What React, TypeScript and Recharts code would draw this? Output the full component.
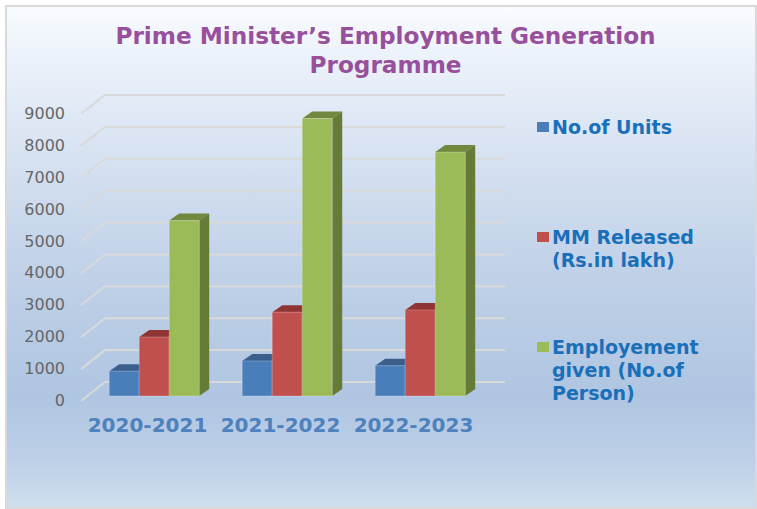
import React from "react";
import { BarChart, Bar, XAxis, YAxis, CartesianGrid, Legend } from "recharts";

const categories = ["2020-2021", "2021-2022", "2022-2023"];
const units = [780, 1100, 950];
const released = [1850, 2630, 2700];
const employment = [5500, 8700, 7650];
const yTicks = [0, 1000, 2000, 3000, 4000, 5000, 6000, 7000, 8000, 9000];
const titleLines = ["Prime Minister’s Employment Generation", "Programme"];
const seriesNames = ["No.of Units", "MM Released (Rs.in lakh)", "Employement given (No.of Person)"];
const legendLines: string[][] = [["No.of Units"], ["MM Released", "(Rs.in lakh)"], ["Employement", "given (No.of", "Person)"]];
const legendTops = [116, 226, 336];

const data = categories.map((c, i) => ({ category: c, units: units[i], released: released[i], employment: employment[i] }));

const DX = 10;
const DY = -7;

const make3D = (front: string, top: string, side: string) => (p: any) => {
  const { x, y, width: w, height: h } = p;
  return (
    <g>
      <polygon points={`${x},${y} ${x + DX},${y + DY} ${x + w + DX},${y + DY} ${x + w},${y}`} fill={top} />
      <polygon points={`${x + w},${y} ${x + w + DX},${y + DY} ${x + w + DX},${y + h + DY} ${x + w},${y + h}`} fill={side} />
      <rect x={x} y={y} width={w} height={h} fill={front} stroke="#ffffff" strokeOpacity={0.22} strokeWidth={1} />
    </g>
  );
};

const gridLine = (p: any) => (
  <polyline
    key={p.key ?? p.y1}
    points={`${p.x1 - 6},${p.y1 + 5} ${p.x1 + 18},${p.y1 - 14} ${p.x2 + 19},${p.y1 - 14}`}
    fill="none"
    stroke="#d9d9d9"
    strokeWidth={2}
  />
);

const YTick = (p: any) => (
  <text x={65} y={p.y + 5} dy={5} textAnchor="end" fontFamily="DejaVu Sans" fontSize={16} fill="#666666">
    {p.payload.value}
  </text>
);

const XTick = (p: any) => (
  <text x={p.x - 6} y={432} textAnchor="middle" fontFamily="DejaVu Sans" fontWeight="bold" fontSize={20} fill="#4f81bd">
    {p.payload.value}
  </text>
);

const legendColors = ["#4a7ebb", "#c0504d", "#9bbb59"];

const LegendContent = () => (
  <div style={{ position: "relative", width: 220, height: 300 }}>
    {legendLines.map((lines, i) => (
      <div key={i} style={{ position: "absolute", left: 0, top: legendTops[i] - 116 }}>
        <div style={{ position: "absolute", left: 0, top: 6, width: 12, height: 10, background: legendColors[i] }} />
        <div style={{ position: "absolute", left: 15, top: 0, whiteSpace: "nowrap", fontFamily: "DejaVu Sans", fontWeight: "bold", fontSize: 19, lineHeight: "23px", color: "#1a6fb9" }}>
          {lines.map((l) => (
            <div key={l}>{l}</div>
          ))}
        </div>
      </div>
    ))}
  </div>
);

export default function App() {
  return (
    <div
      style={{
        position: "absolute",
        left: 0,
        top: 0,
        width: 757,
        height: 509,
        background: "#ffffff",
        overflow: "hidden",
      }}
    >
      <div
        style={{
          position: "absolute",
          left: 5,
          top: 5,
          width: 748,
          height: 500,
          border: "2px solid #d9d9d9",
          background: "linear-gradient(180deg, #f8fbff 0%, #dfe8f5 22%, #c3d3e9 50%, #afc5e1 78%, #bccfe7 90%, #cfdeee 100%)",
        }}
      />
      <div
        style={{
          position: "absolute",
          left: 0,
          width: 771,
          top: 21,
          textAlign: "center",
          fontFamily: "DejaVu Sans",
          fontWeight: "bold",
          fontSize: 23.2,
          lineHeight: "29px",
          color: "#984f9c",
        }}
      >
        {titleLines.map((l) => (
          <div key={l}>{l}</div>
        ))}
      </div>
      <div style={{ position: "absolute", left: 0, top: 0 }}>
        <BarChart
          width={757}
          height={509}
          data={data}
          margin={{ top: 109, right: 271, bottom: 73, left: 27 }}
          barGap={0}
          barCategoryGap="16.7%"
        >
          <CartesianGrid horizontal={gridLine} vertical={false} />
          <XAxis dataKey="category" axisLine={false} tickLine={false} height={40} tick={XTick} interval={0} />
          <YAxis width={60} domain={[0, 9000]} ticks={yTicks} axisLine={false} tickLine={false} tick={YTick} interval={0} />
          <Legend
            layout="vertical"
            align="center"
            verticalAlign="middle"
            content={LegendContent}
            wrapperStyle={{ left: 537, top: 116, width: 220 }}
          />
          <Bar dataKey="units" name={seriesNames[0]} fill="#4a7ebb" shape={make3D("#4a7ebb", "#3a5f8c", "#385d8a")} isAnimationActive={false} />
          <Bar dataKey="released" name={seriesNames[1]} fill="#c0504d" shape={make3D("#c0504d", "#8f3634", "#8c3836")} isAnimationActive={false} />
          <Bar dataKey="employment" name={seriesNames[2]} fill="#9bbb59" shape={make3D("#9bbb59", "#71893f", "#667b37")} isAnimationActive={false} />
        </BarChart>
      </div>
    </div>
  );
}
